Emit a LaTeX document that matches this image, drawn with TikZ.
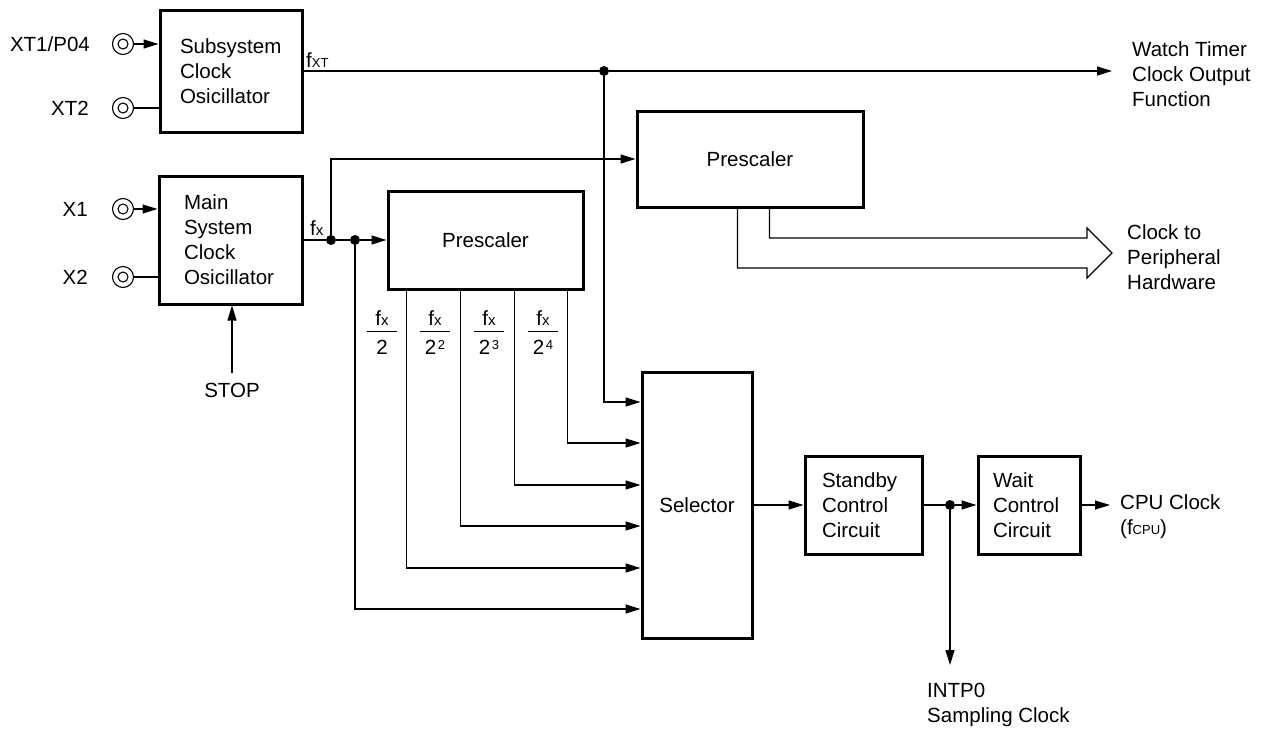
\documentclass[tikz,border=0pt]{standalone}
\usepackage{fontspec}
\setmainfont{Liberation Sans}
\usetikzlibrary{arrows.meta,calc}
\newcommand{\fsz}{\fontsize{20.5}{25}\selectfont}
\newcommand{\smf}{\fontsize{13}{13}\selectfont}
\newcommand{\fxn}{f{\fontsize{15}{15}\selectfont x}}
\newcommand{\powtwo}[1]{2\kern1.5pt\raisebox{5pt}{\fontsize{13}{13}\selectfont #1}}
\newcommand{\fxfrac}[1]{\renewcommand{\arraystretch}{0.6}\setlength{\arrayrulewidth}{1.2pt}\begin{tabular}{@{}c@{}}\makebox[30pt]{\rule[-5pt]{0pt}{20pt}\fxn}\\\hline\makebox[30pt]{\rule{0pt}{23pt}#1}\end{tabular}}
\begin{document}
\begin{tikzpicture}[x=1pt,y=-1pt,font=\fsz,
  blk/.style={draw, line width=3pt, inner sep=0pt},
  wire/.style={line width=1.2pt},
  arr/.style={wire, -{Triangle[length=15pt,width=9pt]}},
  dot/.style={circle, fill, inner sep=0pt, minimum size=10pt},
  pinc/.style={circle, draw, line width=1.1pt, minimum size=21pt, inner sep=0pt},
  lbl/.style={inner sep=0pt, align=left},
  ]
\useasboundingbox (0,0) rectangle (1268,731);
% boxes
\node[blk, minimum width=142pt, minimum height=122pt, text width=102pt, align=left] (sub) at (231,71) {Subsystem\\Clock\\Osicillator};
\node[blk, minimum width=143pt, minimum height=128pt, text width=93pt, align=left] (main) at (230.5,240) {Main\\System\\Clock\\Osicillator};
\node[blk, minimum width=195pt, minimum height=98pt] (pre1) at (485.5,240) {Prescaler};
\node[blk, minimum width=226pt, minimum height=96pt] (pre2) at (750,159) {Prescaler};
\node[blk, minimum width=110pt, minimum height=266pt] (sel) at (697,505) {Selector};
\node[blk, minimum width=117pt, minimum height=98pt, text width=83pt, align=left] (stb) at (863.5,505) {Standby\\Control\\Circuit};
\node[blk, minimum width=102pt, minimum height=98pt, text width=72pt, align=left] (wai) at (1029,505) {Wait\\Control\\Circuit};
% pins
\node[pinc] (pxt1) at (123,44) {};
\node[pinc] (pxt2) at (123,108) {};
\node[pinc] (px1) at (123,209) {};
\node[pinc] (px2) at (123,277) {};
\foreach \p in {pxt1,pxt2,px1,px2} \draw[line width=1.1pt] (\p) circle (5pt);
\node[lbl, anchor=east] (lxt1) at (90,44) {XT1/P04};
\node[lbl, anchor=east] (lxt2) at (89,108) {XT2};
\node[lbl, anchor=east] (lx1) at (88,209) {X1};
\node[lbl, anchor=east] (lx2) at (88,277) {X2};
\draw[arr] (pxt1) -- (pxt1 -| sub.west);
\draw[wire] (pxt2) -- (pxt2 -| sub.west);
\draw[arr] (px1) -- (px1 -| main.west);
\draw[wire] (px2) -- (px2 -| main.west);
% STOP
\node[lbl] (stop) at (232,390) {STOP};
\draw[arr] ([yshift=10pt]stop.north) -- (stop.north |- main.south);
% dots
\node[dot] (dxt) at (604,71) {};
\node[dot] (d1) at (331,240) {};
\node[dot] (d2) at (355,240) {};
\node[dot] (d3) at (950,505) {};
% fxt line
\draw[wire] (sub.east) -- (dxt);
\coordinate (wtend) at (1112,71);
\draw[arr] (dxt) -- (wtend);
\draw[arr] (dxt) |- ($(sel.west)+(0,-103)$);
% fx lines
\draw[wire] (main.east) -- (d1);
\draw[wire] (d1) -- (d2);
\draw[arr] (d2) -- (pre1.west);
\draw[arr] (d1) |- (pre2.west);
\draw[arr] (d2) |- ($(sel.west)+(0,104)$);
\draw[arr] ($(pre1.south west)+(20,0)$) |- ($(sel.west)+(0,63)$);
\draw[arr] ($(pre1.south west)+(74,0)$) |- ($(sel.west)+(0,21)$);
\draw[arr] ($(pre1.south west)+(128,0)$) |- ($(sel.west)+(0,-20)$);
\draw[arr] ($(pre1.south west)+(181,0)$) |- ($(sel.west)+(0,-62)$);
% hollow arrow
\draw[wire] ($(pre2.south west)+(134,0)$) |- (1087,238) -- (1087,228) -- (1112,253) -- (1087,278) -- (1087,268) -| ($(pre2.south west)+(102,0)$);
% output chain
\draw[arr] (sel.east) -- (stb.west);
\draw[wire] (stb.east) -- (d3);
\draw[arr] (d3) -- (wai.west);
\coordinate (cpuend) at (1110,505);
\draw[arr] (wai.east) -- (cpuend);
\coordinate (intend) at (950,665);
\draw[arr] (d3) -- (intend);
% texts
\node[lbl, anchor=west] (wt) at (1132,74) {Watch Timer\\Clock Output\\Function};
\node[lbl, anchor=west] (per) at (1127,257) {Clock to\\Peripheral\\Hardware};
\node[lbl, anchor=west] (cpu) at (1120,517) {CPU Clock\\(f{\smf CPU})};
\node[lbl, anchor=west] (intp) at (927,705) {INTP0\\Sampling Clock};
\node[lbl, anchor=base west] (lfxt) at (306,67) {f{\smf XT}};
\node[lbl, anchor=base west] (lfx) at (310,235) {\fxn};
% fractions
\node[inner sep=0pt] (fr1) at (382,335) {\fxfrac{2}};
\node[inner sep=0pt] (fr2) at (435,335) {\fxfrac{\powtwo{2}}};
\node[inner sep=0pt] (fr3) at (489,335) {\fxfrac{\powtwo{3}}};
\node[inner sep=0pt] (fr4) at (543,335) {\fxfrac{\powtwo{4}}};
\end{tikzpicture}
\end{document}
